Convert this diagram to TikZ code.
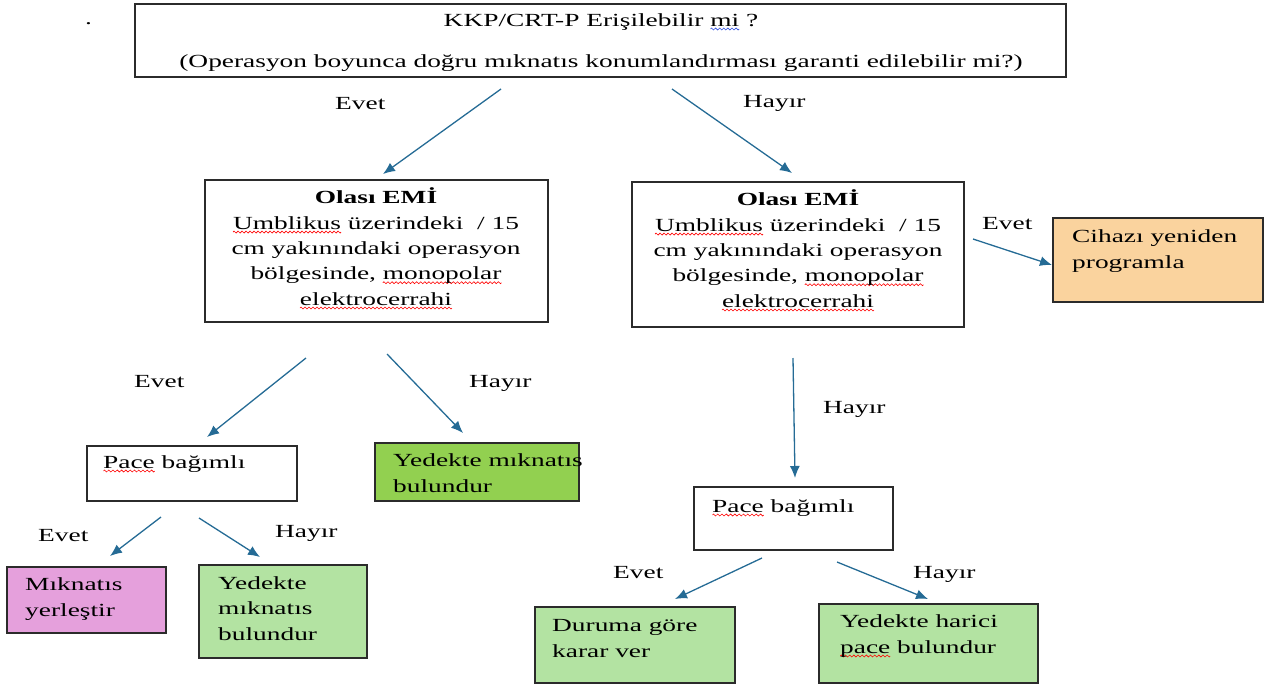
\documentclass[tikz,border=0pt]{standalone}
\usepackage{fontspec}
\setmainfont{Liberation Serif}[FakeStretch=1.48]
\usetikzlibrary{arrows.meta}
\definecolor{arrowc}{HTML}{256B95}
\definecolor{boxc}{HTML}{2B2B2B}
\definecolor{orangec}{HTML}{FAD39E}
\definecolor{dgreen}{HTML}{92D050}
\definecolor{lgreen}{HTML}{B3E3A2}
\definecolor{pinkc}{HTML}{E5A0DC}
\definecolor{sqblue}{HTML}{3050E0}
\newsavebox\redwavebox
\newsavebox\bluewavebox
\newsavebox\sqwordbox
\newcommand\makewave[2]{\sbox#1{\pgfpicture
  \pgfsetbaseline{0pt}%
  \pgfpathrectangle{\pgfpoint{0pt}{-1pt}}{\pgfpoint{4pt}{2pt}}\pgfusepath{use as bounding box}%
  \pgfsetlinewidth{0.6pt}\pgfsetstrokecolor{#2}%
  \pgfpathmoveto{\pgfpoint{0pt}{0pt}}%
  \pgfpathsine{\pgfpoint{1pt}{1pt}}\pgfpathcosine{\pgfpoint{1pt}{-1pt}}%
  \pgfpathsine{\pgfpoint{1pt}{-1pt}}\pgfpathcosine{\pgfpoint{1pt}{1pt}}%
  \pgfusepath{stroke}\endpgfpicture}}
\newcommand\redsq[1]{\sbox\sqwordbox{#1}\rlap{\raisebox{-3pt}{\hbox to \wd\sqwordbox{\xleaders\copy\redwavebox\hfill}}}\usebox\sqwordbox}
\newcommand\bluesq[1]{\sbox\sqwordbox{#1}\rlap{\raisebox{-3pt}{\hbox to \wd\sqwordbox{\xleaders\copy\bluewavebox\hfill}}}\usebox\sqwordbox}
\tikzset{
  box/.style={draw=boxc, line width=1.3pt, anchor=north west, inner sep=0pt, outer sep=0pt},
  txt/.style={inner sep=0pt, anchor=base west, align=left},
  ctxt/.style={inner sep=0pt, anchor=base, align=center},
  lab/.style={inner sep=0pt, anchor=base west},
  arr/.style={draw=arrowc, line width=1.3pt, -{Latex[length=12pt,width=10pt]}},
}
\begin{document}
\makewave\redwavebox{red}\makewave\bluewavebox{sqblue}%
\begin{tikzpicture}[x=1pt,y=-1pt,font=\fontsize{18.5pt}{25.3pt}\selectfont]
\useasboundingbox (0,0) rectangle (1272,686);
% boxes
\node[box, minimum width=931pt, minimum height=73pt] (top) at (135,4) {};
\node[box, minimum width=343pt, minimum height=142pt] (L1) at (205,180) {};
\node[box, minimum width=332pt, minimum height=145pt] (R1) at (632,182) {};
\node[box, fill=orangec, minimum width=210pt, minimum height=84pt] (cih) at (1053,218) {};
\node[box, minimum width=210pt, minimum height=55pt] (LP) at (87,446) {};
\node[box, fill=dgreen, minimum width=204pt, minimum height=58pt] (G1) at (375,443) {};
\node[box, fill=pinkc, minimum width=159pt, minimum height=66pt] (pink) at (7,567) {};
\node[box, fill=lgreen, minimum width=168pt, minimum height=93pt] (G2) at (199,565) {};
\node[box, minimum width=199pt, minimum height=63pt] (RP) at (694,487) {};
\node[box, fill=lgreen, minimum width=200pt, minimum height=76pt] (dur) at (535,607) {};
\node[box, fill=lgreen, minimum width=219pt, minimum height=79pt] (har) at (819,604) {};
% texts (anchor = baseline of the last line)
\node[lab] (dot) at (85,24) {.};
\node[ctxt] (topt) at (601,67) {KKP/CRT-P Erişilebilir \bluesq{mi} ?\\[15.7pt](Operasyon boyunca doğru mıknatıs konumlandırması garanti edilebilir mi?)};
\node[ctxt] (L1t) at (376,305) {\textbf{Olası EMİ}\\\redsq{Umblikus} üzerindeki~ / 15\\cm yakınındaki operasyon\\bölgesinde, \redsq{monopolar}\\\redsq{elektrocerrahi}};
\node[ctxt] (R1t) at (798,307) {\textbf{Olası EMİ}\\\redsq{Umblikus} üzerindeki~ / 15\\cm yakınındaki operasyon\\bölgesinde, \redsq{monopolar}\\\redsq{elektrocerrahi}};
\node[txt] (ciht) at (1072,268) {Cihazı yeniden\\programla};
\node[txt] (LPt) at (103,468) {\redsq{Pace} bağımlı};
\node[txt] (G1t) at (393,492) {Yedekte mıknatıs\\bulundur};
\node[txt] (pinkt) at (25,616) {Mıknatıs\\yerleştir};
\node[txt] (G2t) at (218,640) {Yedekte\\mıknatıs\\bulundur};
\node[txt] (RPt) at (712,512) {\redsq{Pace} bağımlı};
\node[txt] (durt) at (552,657) {Duruma göre\\karar ver};
\node[txt] (hart) at (840,653) {Yedekte harici\\\redsq{pace} bulundur};
% labels
\node[lab] (e1) at (335,109) {Evet};
\node[lab] (h1) at (743,107) {Hayır};
\node[lab] (e2) at (982,229) {Evet};
\node[lab] (e3) at (134,387) {Evet};
\node[lab] (h3) at (469,387) {Hayır};
\node[lab] (h4) at (823,413) {Hayır};
\node[lab] (e5) at (38,541) {Evet};
\node[lab] (h5) at (275,537) {Hayır};
\node[lab] (e6) at (613,578) {Evet};
\node[lab] (h6) at (913,578) {Hayır};
% arrows
\draw[arr] ([shift={(366,12)}]top.south west) -- ([shift={(178,-6)}]L1.north west);
\draw[arr] ([shift={(537,12)}]top.south west) -- ([shift={(160,-9)}]R1.north west);
\draw[arr] ([shift={(9,57)}]R1.north east) -- ([shift={(-1,47)}]cih.north west);
\draw[arr] ([shift={(101,36)}]L1.south west) -- ([shift={(120,-9)}]LP.north west);
\draw[arr] ([shift={(182,32)}]L1.south west) -- ([shift={(88,-10)}]G1.north west);
\draw[arr] ([shift={(161,31)}]R1.south west) -- ([shift={(101,-9)}]RP.north west);
\draw[arr] ([shift={(74,16)}]LP.south west) -- ([shift={(103,-11)}]pink.north west);
\draw[arr] ([shift={(112,17)}]LP.south west) -- ([shift={(61,-8)}]G2.north west);
\draw[arr] ([shift={(68,8)}]RP.south west) -- ([shift={(140,-8)}]dur.north west);
\draw[arr] ([shift={(143,12)}]RP.south west) -- ([shift={(109,-5)}]har.north west);
\end{tikzpicture}
\end{document}
